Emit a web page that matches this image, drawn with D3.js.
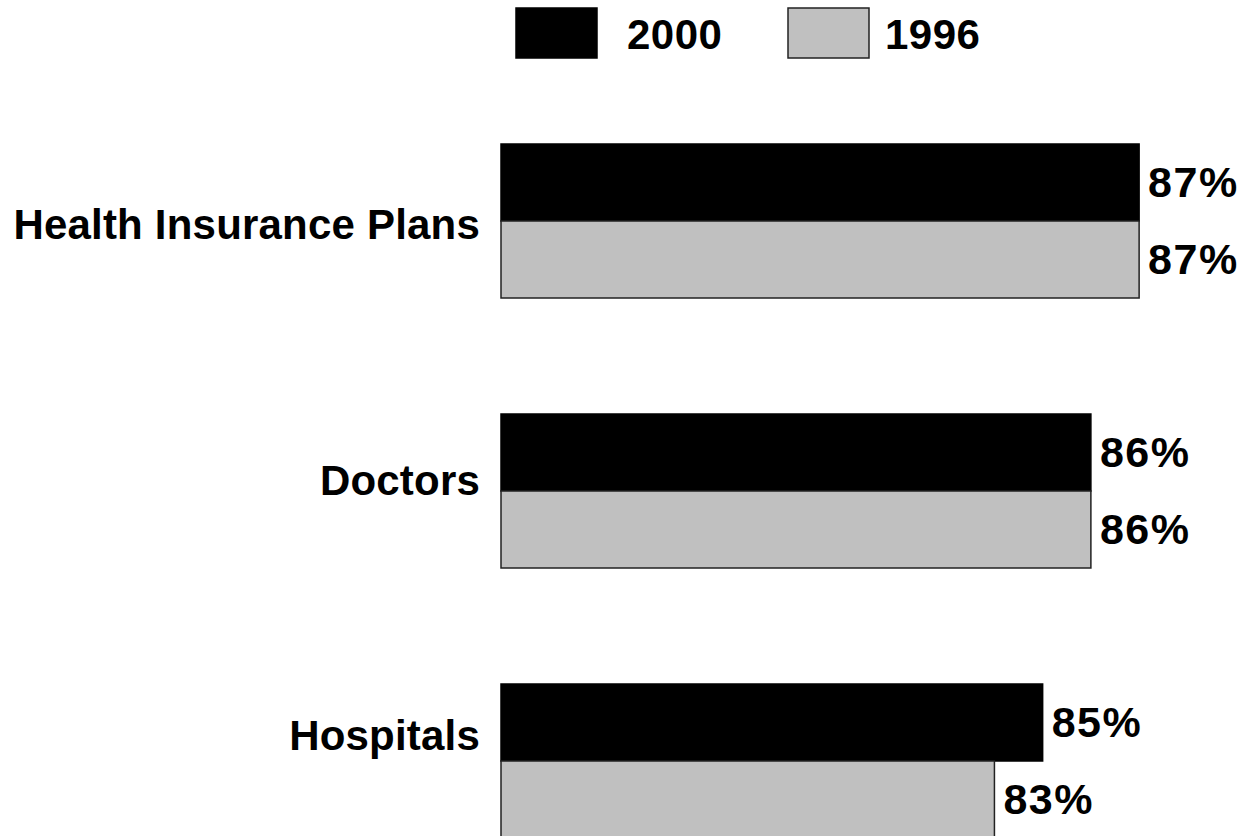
<!DOCTYPE html>
<html>
<head>
<meta charset="utf-8">
<script src="https://cdn.jsdelivr.net/npm/d3@7"></script>
<style>
  body { margin: 0; background: #fff; }
  text { font-family: "Liberation Sans", Arial, sans-serif; font-weight: bold; fill: #000; }
</style>
</head>
<body>
<script>
var width = 1244;
var height = 836;

// data
var categories = ["Health Insurance Plans", "Doctors", "Hospitals"];
var years = ["2000", "1996"];
var values2000 = [87.2, 85.9, 84.6];
var values1996 = [87.2, 85.9, 83.3];

var colours = { "2000": "#000000", "1996": "#c0c0c0" };
var strokes = { "2000": "#000000", "1996": "#222222" };

var rows = categories.map(function (c, i) {
    return { name: c, bars: [
        { year: "2000", value: values2000[i] },
        { year: "1996", value: values1996[i] }
    ]};
});

var svg = d3.select("body").append("svg")
    .attr("width", width)
    .attr("height", height);

var x = d3.scaleLinear()
    .domain([70, 90])
    .range([501, 1243]);

var y = d3.scaleBand()
    .domain(categories)
    .range([144, 838])
    .paddingInner(116 / 270)
    .paddingOuter(0);

var yInner = d3.scaleBand()
    .domain(years)
    .range([0, y.bandwidth()]);

// category labels sit on their own point scale
var yLabel = d3.scalePoint()
    .domain(categories)
    .range([225, 736]);

var fmt = function (v) { return d3.format(".0f")(v) + "%"; };

var group = svg.selectAll("g.row")
    .data(rows)
    .enter().append("g")
    .attr("class", "row")
    .attr("transform", function (d) { return "translate(0," + y(d.name) + ")"; });

group.selectAll("rect")
    .data(function (d) { return d.bars; })
    .enter().append("rect")
    .attr("x", x(70))
    .attr("y", function (d) { return yInner(d.year); })
    .attr("width", function (d) { return x(d.value) - x(70); })
    .attr("height", yInner.bandwidth())
    .style("fill", function (d) { return colours[d.year]; })
    .style("stroke", function (d) { return strokes[d.year]; })
    .style("stroke-width", "1.5px");

group.selectAll("text.val")
    .data(function (d) { return d.bars; })
    .enter().append("text")
    .attr("class", "val")
    .attr("x", function (d) { return x(d.value) + 9; })
    .attr("y", function (d) { return yInner(d.year) + yInner.bandwidth() / 2 + 14; })
    .style("font-size", "43px")
    .style("letter-spacing", "1.5px")
    .text(function (d) { return fmt(d.value); });

svg.selectAll("text.cat")
    .data(categories)
    .enter().append("text")
    .attr("class", "cat")
    .attr("x", 480)
    .attr("y", function (d) { return yLabel(d) + 14; })
    .attr("text-anchor", "end")
    .style("font-size", "42px")
    .style("letter-spacing", "0.2px")
    .text(function (d) { return d; });

// legend
var legend = svg.append("g");
var legendX = d3.scalePoint().domain(years).range([516, 788]);

var item = legend.selectAll("g")
    .data(years)
    .enter().append("g")
    .attr("transform", function (d) { return "translate(" + legendX(d) + ",8)"; });

item.append("rect")
    .attr("width", 81)
    .attr("height", 50)
    .style("fill", function (d) { return colours[d]; })
    .style("stroke", function (d) { return strokes[d]; })
    .style("stroke-width", "1.5px");

item.append("text")
    .attr("x", function (d, i) { return i == 0 ? 111 : 97; })
    .attr("y", 41)
    .style("font-size", "42px")
    .style("letter-spacing", "0.5px")
    .text(function (d) { return d; });
</script>
</body>
</html>
